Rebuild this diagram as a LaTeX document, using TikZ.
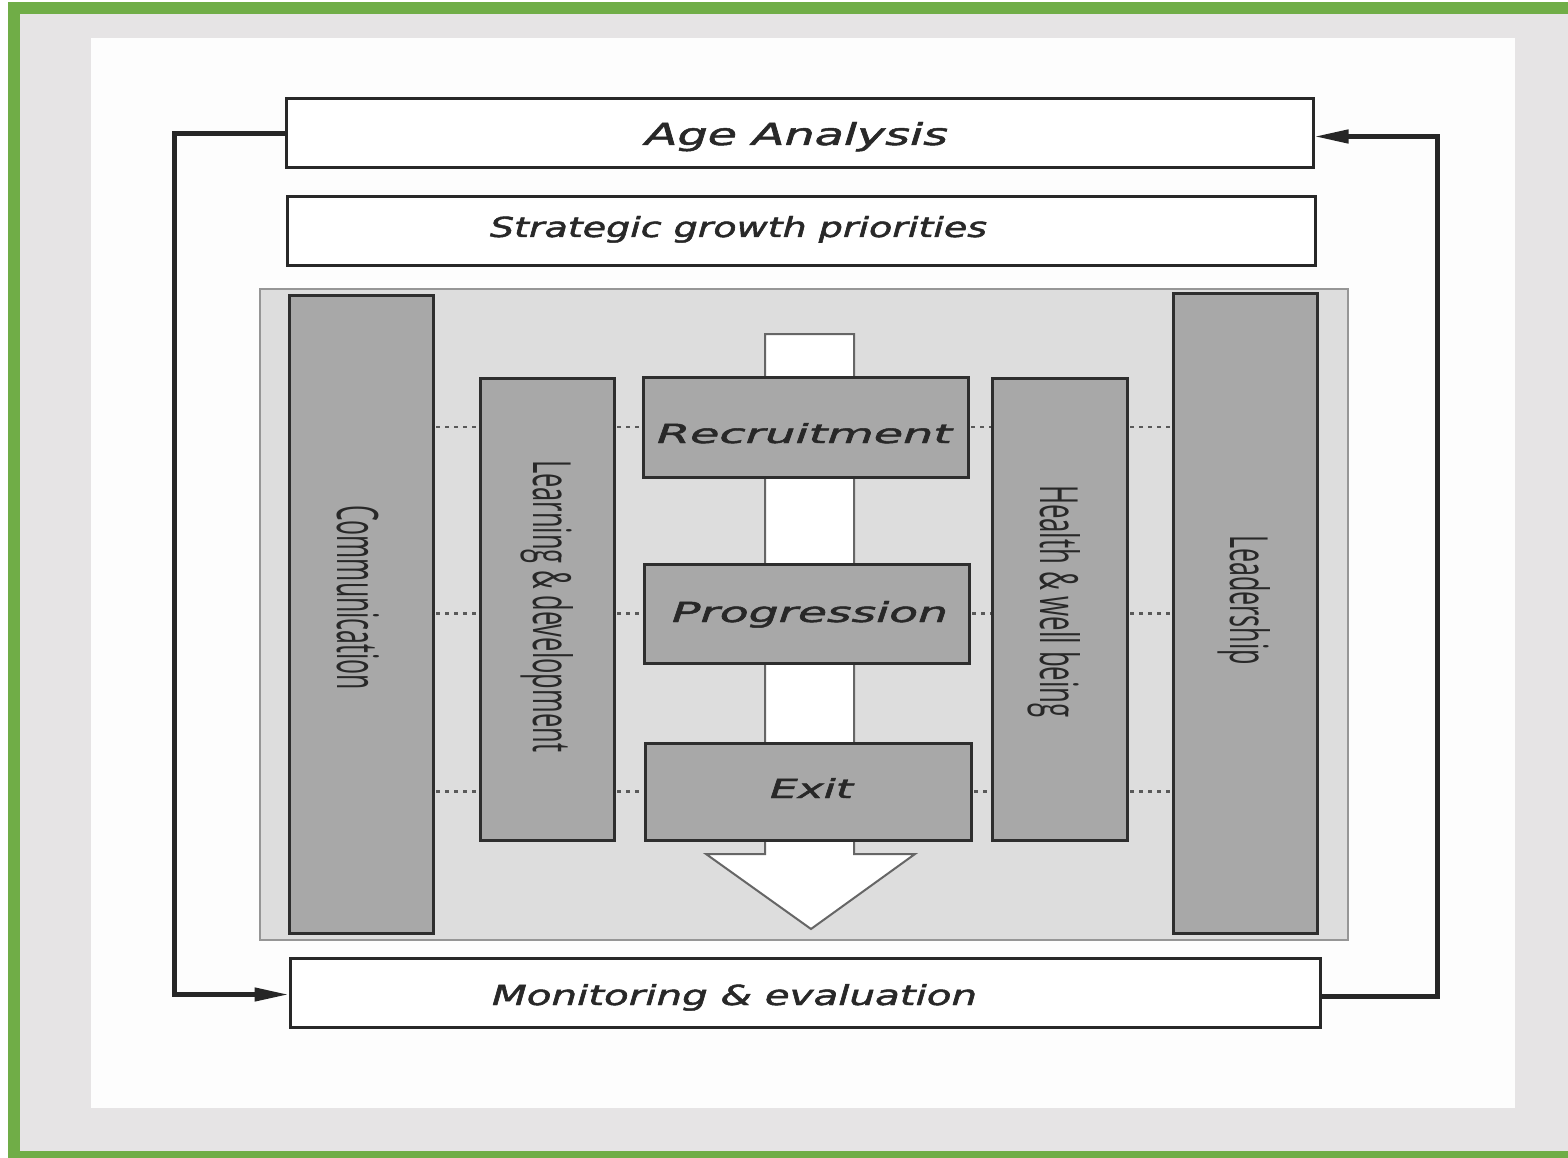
\documentclass[tikz,border=0pt]{standalone}
\usepackage{fontspec}
\setmainfont{DejaVu Sans}
\newfontfamily\hfont{DejaVu Sans Oblique}[FakeBold=1.6]
\newfontfamily\vfont{Open Sans}
\usetikzlibrary{arrows.meta}
\definecolor{frameg}{RGB}{112,173,71}
\definecolor{bgg}{RGB}{230,228,229}
\definecolor{paper}{RGB}{253,253,253}
\definecolor{panelg}{RGB}{221,221,221}
\definecolor{panelb}{RGB}{150,150,150}
\definecolor{barg}{RGB}{168,168,168}
\definecolor{ink}{RGB}{40,40,40}
\newcommand{\htx}[3]{\resizebox{#1pt}{#2pt}{\fontsize{30}{34}\selectfont\hfont #3}}
\newcommand{\vtx}[3]{\resizebox{#1pt}{#2pt}{\fontsize{36}{40}\selectfont\vfont #3}}
\begin{document}
\begin{tikzpicture}[x=1pt,y=-1pt,
  box/.style={draw=ink, line width=3pt, fill=white, inner sep=0pt, outer sep=0pt},
  bar/.style={draw=black!82, line width=3pt, fill=barg, inner sep=0pt, outer sep=0pt},
  lbl/.style={inner sep=0pt, outer sep=0pt, text=ink, anchor=base},
  vlbl/.style={inner sep=0pt, outer sep=0pt, text=ink, anchor=base west, rotate=-90},
  loopline/.style={line width=4.5pt, draw=black!85, -{Triangle[length=34pt,width=13pt]}},
  dots/.style={line width=2.5pt, draw=black!65, dash pattern=on 4pt off 5pt},
  flowarrow/.style={fill=white, draw=black!60, line width=2pt, line join=miter}]
\useasboundingbox (0,0) rectangle (1568,1158);
% frame and background
\fill[white] (0,0) rectangle (1568,1158);
\fill[frameg] (8,2) rectangle (1568,1158);
\fill[bgg] (20,14) rectangle (1568,1151);
\fill[paper] (91,38) rectangle (1515,1108);
% top and bottom boxes
\node[box, minimum width=1027pt, minimum height=69pt] (age) at (799.5,133.5) {};
\node[box, minimum width=1028pt, minimum height=69pt] (strat) at (801,231.5) {};
\node[box, minimum width=1030pt, minimum height=69pt] (mon) at (805,992.5) {};
\node[lbl] (tage) at (796.5,145) {\htx{303}{23}{Age Analysis}};
\node[lbl] (tstrat) at (738.5,237) {\htx{497}{21}{Strategic growth priorities}};
\node[lbl] (tmon) at (734.5,1005) {\htx{485}{21}{Monitoring \& evaluation}};
% panel
\node[draw=panelb, line width=2pt, fill=panelg, minimum width=1088pt, minimum height=651pt, inner sep=0pt] (panel) at (804,614.5) {};
% flow arrow
\draw[flowarrow] (765,334) -- (854,334) -- (854,854) -- (915,854) -- (811,929) -- (706,854) -- (765,854) -- cycle;
% bars
\node[bar, minimum width=144pt, minimum height=638pt] (comm) at (361,614) {};
\node[bar, minimum width=134pt, minimum height=462pt] (ld) at (547,609) {};
\node[bar, minimum width=135pt, minimum height=462pt] (hw) at (1059.5,609) {};
\node[bar, minimum width=144pt, minimum height=640pt] (lead) at (1245,613) {};
\node[bar, minimum width=325pt, minimum height=100pt] (rec) at (805.5,427) {};
\node[bar, minimum width=325pt, minimum height=99pt] (prog) at (806.5,613.5) {};
\node[bar, minimum width=326pt, minimum height=97pt] (exit) at (808,791.5) {};
% labels
\node[lbl] (trec) at (804.5,443) {\htx{295}{20}{Recruitment}};
\node[lbl] (tprog) at (810,622) {\htx{276}{21}{Progression}};
\node[lbl] (texit) at (811.5,798) {\htx{83}{20}{Exit}};
\node[vlbl] (tcomm) at (337,505) {\vtx{185}{42}{Communication}};
\node[vlbl] (tld) at (533,460) {\vtx{292}{40}{Learning \& development}};
\node[vlbl] (thw) at (1040,485) {\vtx{233}{40}{Health \& well being}};
\node[vlbl] (tlead) at (1230,535) {\vtx{130}{40}{Leadership}};
% dotted links
\foreach \s in {rec,prog,exit}{
  \draw[dots] ([xshift=3pt]comm.east |- \s.west) -- ([xshift=-1.5pt]ld.west |- \s.west);
  \draw[dots] ([xshift=3pt]ld.east |- \s.west) -- ([xshift=-1.5pt]\s.west);
  \draw[dots] ([xshift=3pt]\s.east) -- ([xshift=-1.5pt]hw.west |- \s.east);
  \draw[dots] ([xshift=3pt]hw.east |- \s.east) -- ([xshift=-1.5pt]lead.west |- \s.east);
}
% feedback loop
\draw[loopline] ([xshift=-1.5pt]age.west) -- ++(-110,0) coordinate (lc) |- ([xshift=-1.5pt,yshift=-2pt]mon.west);
\draw[loopline] ([xshift=1.5pt,yshift=-4pt]mon.east) -- ++(116,0) coordinate (rc) |- ([xshift=1.5pt,yshift=-3pt]age.east);
\end{tikzpicture}
\end{document}
